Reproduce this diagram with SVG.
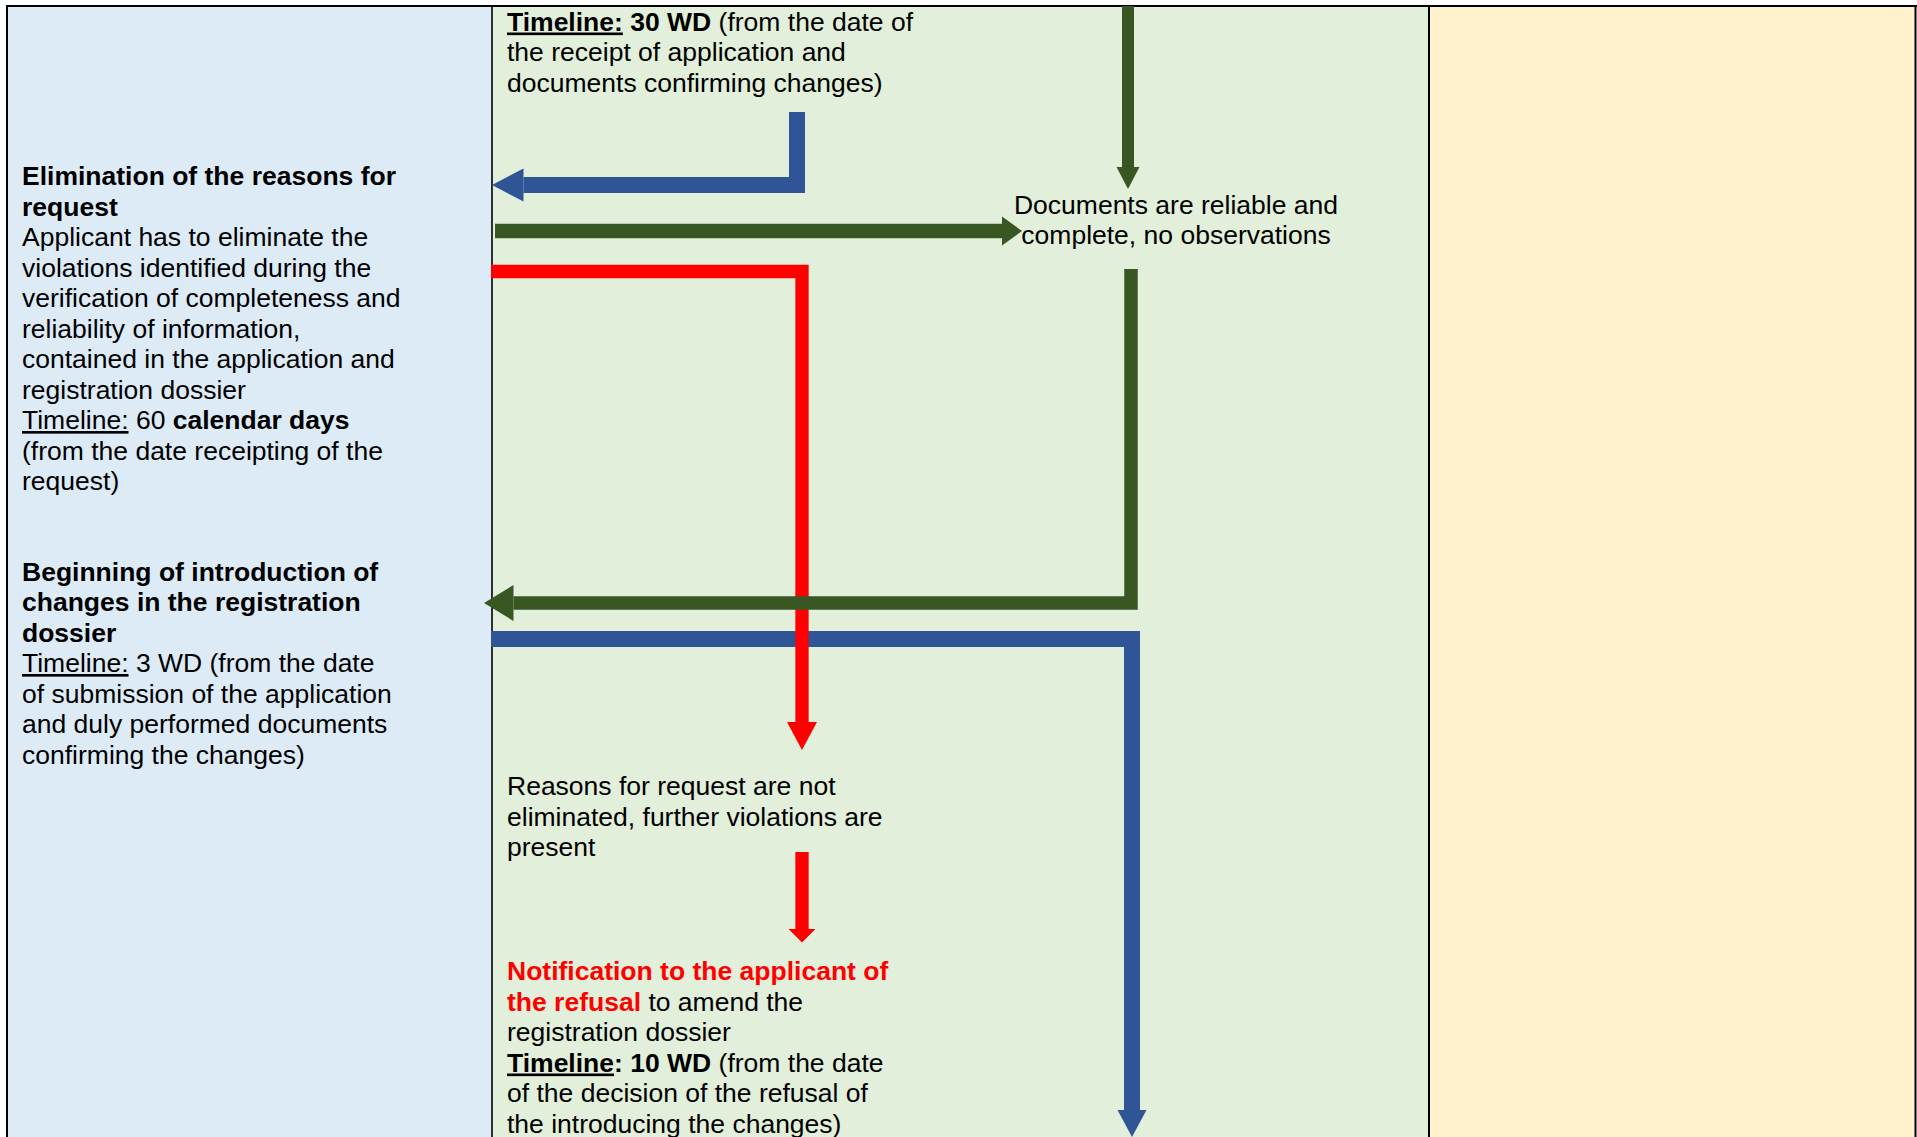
<svg xmlns="http://www.w3.org/2000/svg" width="1917" height="1137" viewBox="0 0 1917 1137">
<style>
text{font-family:"Liberation Sans",Arial,sans-serif;font-size:26.5px;fill:#000}
.b{font-weight:bold}
.u{text-decoration:underline}
.red{fill:#FF0000}
.sh{fill:none;stroke-linejoin:miter;stroke-linecap:butt}
.bl{stroke:#2F5597}
.gr{stroke:#385723}
.rd{stroke:#FF0000}
.hbl{fill:#2F5597}
.hgr{fill:#385723}
.hrd{fill:#FF0000}
.bord{stroke:#000;stroke-width:2;fill:none}
</style>
<g id="lanes">
<rect x="7" y="6" width="485" height="1131" fill="#DDEBF7"/>
<rect x="492" y="6" width="937" height="1131" fill="#E2EFDA"/>
<rect x="1429" y="6" width="487" height="1131" fill="#FFF2CC"/>
<line class="bord" x1="6" y1="6" x2="1917" y2="6"/>
<line class="bord" x1="7" y1="5" x2="7" y2="1137"/>
<line x1="492" y1="6" x2="492" y2="1137" stroke="#000" stroke-width="1.6"/>
<line class="bord" x1="1429" y1="6" x2="1429" y2="1137"/>
<line class="bord" x1="1915.5" y1="5" x2="1915.5" y2="1137"/>
</g>
<g id="connectors">
<path class="sh bl" stroke-width="16" d="M491,639 H1132 V1110.5"/>
<polygon class="hbl" points="1117.5,1110 1146.5,1110 1132,1137"/>
<path class="sh rd" stroke-width="13.3" d="M491,271.5 H802 V722.5"/>
<polygon class="hrd" points="787,722 817,722 802,750"/>
<path class="sh rd" stroke-width="13.3" d="M802,852 V929.5"/>
<polygon class="hrd" points="788.5,929 815.5,929 802,942.5"/>
<path class="sh bl" stroke-width="16" d="M797,112 V185 H523.5"/>
<polygon class="hbl" points="523.5,168.5 523.5,201.5 492,185"/>
<path class="sh gr" stroke-width="14.5" d="M495,231 H1002.5"/>
<polygon class="hgr" points="1002,216.5 1002,245.5 1022,231"/>
<path class="sh gr" stroke-width="12" d="M1128,6 V167.5"/>
<polygon class="hgr" points="1116.5,167 1139.5,167 1128,189"/>
<path class="sh gr" stroke-width="13.5" d="M1131,269 V603 H513.5"/>
<polygon class="hgr" points="513.5,585 513.5,621 484,603"/>
</g>
<g id="node-elimination">
<text x="22" y="185" class="b">Elimination of the reasons for</text>
<text x="22" y="215.5" class="b">request</text>
<text x="22" y="246">Applicant has to eliminate the</text>
<text x="22" y="276.5">violations identified during the</text>
<text x="22" y="307">verification of completeness and</text>
<text x="22" y="337.5">reliability of information,</text>
<text x="22" y="368">contained in the application and</text>
<text x="22" y="398.5">registration dossier</text>
<text x="22" y="429"><tspan class="u">Timeline:</tspan> 60 <tspan class="b">calendar days</tspan></text>
<text x="22" y="459.5">(from the date receipting of the</text>
<text x="22" y="490">request)</text>
</g>
<g id="node-beginning">
<text x="22" y="580.5" class="b">Beginning of introduction of</text>
<text x="22" y="611" class="b">changes in the registration</text>
<text x="22" y="641.5" class="b">dossier</text>
<text x="22" y="672"><tspan class="u">Timeline:</tspan> 3 WD (from the date</text>
<text x="22" y="702.5">of submission of the application</text>
<text x="22" y="733">and duly performed documents</text>
<text x="22" y="763.5">confirming the changes)</text>
</g>
<g id="node-timeline30">
<text x="507" y="30.5"><tspan class="b u">Timeline:</tspan> <tspan class="b">30 WD</tspan> (from the date of</text>
<text x="507" y="61">the receipt of application and</text>
<text x="507" y="91.5">documents confirming changes)</text>
</g>
<g id="node-reliable">
<text x="1176" y="213.5" text-anchor="middle">Documents are reliable and</text>
<text x="1176" y="244" text-anchor="middle">complete, no observations</text>
</g>
<g id="node-not-eliminated">
<text x="507" y="795">Reasons for request are not</text>
<text x="507" y="825.5">eliminated, further violations are</text>
<text x="507" y="856">present</text>
</g>
<g id="node-refusal">
<text x="507" y="980" class="b red">Notification to the applicant of</text>
<text x="507" y="1010.5"><tspan class="b red">the refusal</tspan> to amend the</text>
<text x="507" y="1041">registration dossier</text>
<text x="507" y="1071.5"><tspan class="b u">Timeline</tspan><tspan class="b">: 10 WD</tspan> (from the date</text>
<text x="507" y="1102">of the decision of the refusal of</text>
<text x="507" y="1132.5">the introducing the changes)</text>
</g>
</svg>
